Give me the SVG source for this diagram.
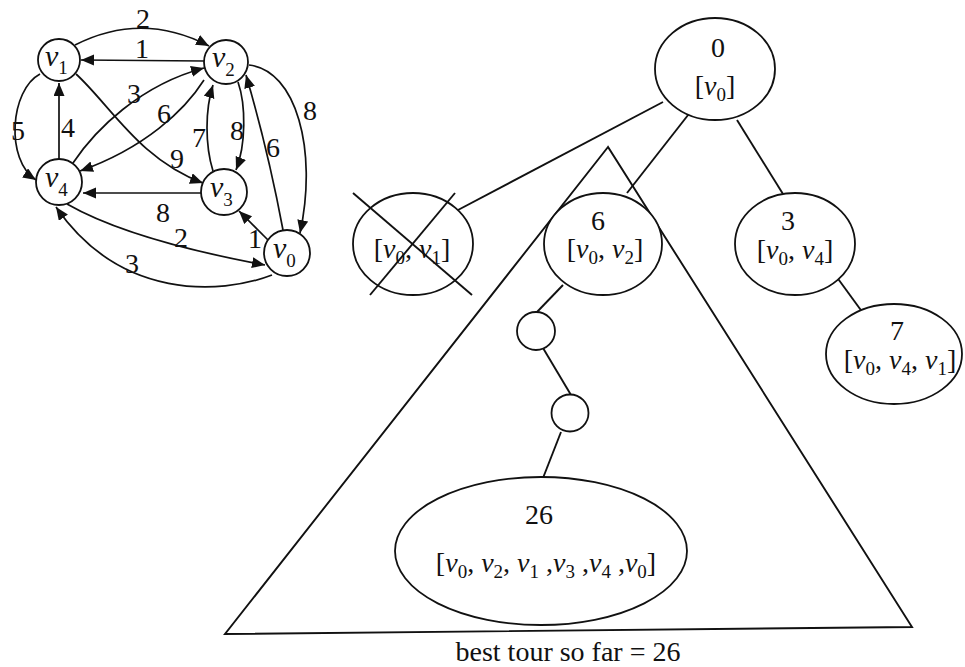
<svg xmlns="http://www.w3.org/2000/svg" width="965" height="667" viewBox="0 0 965 667">
<defs>
<marker id="ah" markerUnits="userSpaceOnUse" markerWidth="14" markerHeight="12" refX="13" refY="5.5" orient="auto">
<path d="M0,0 L13,5.5 L0,11 z" fill="#111"/>
</marker>
<style>
.n{fill:#fff;stroke:#111;stroke-width:1.8}
.e{fill:none;stroke:#111;stroke-width:1.7;marker-end:url(#ah)}
.t{fill:none;stroke:#111;stroke-width:1.9}
text{font-family:'Liberation Serif','Times New Roman','DejaVu Serif',serif;fill:#111}
.gl{font-size:28px}
.nl{font-size:30px}
.tl{font-size:28px;text-anchor:middle}
.i{font-style:italic}
</style>
</defs>
<rect width="965" height="667" fill="#fff"/>

<g id="graph-edges">
<path class="e" d="M75,45 Q142,11 209,46"/>
<path class="e" d="M204,61 L81,60"/>
<path class="e" d="M73,163 C95,130 140,85 204,68"/>
<path class="e" d="M204,80 C185,110 145,148 80,171"/>
<path class="e" d="M40,74 C10,90 5,160 36,180"/>
<path class="e" d="M59,159 L59,83"/>
<path class="e" d="M76,74 C110,105 140,160 203,183"/>
<path class="e" d="M201,193 L83,193"/>
<path class="e" d="M213,171 C205,145 205,110 213,85"/>
<path class="e" d="M238,82 C246,105 246,145 236,170"/>
<path class="e" d="M283,230 Q268,150 246,75"/>
<path class="e" d="M249,65 C296,70 318,150 300,233"/>
<path class="e" d="M268,240 L239,211"/>
<path class="e" d="M67,204 Q130,240 265,265"/>
<path class="e" d="M272,275 C220,295 120,300 56,207"/>
</g>
<g id="graph-edge-labels" class="gl" font-family="Liberation Serif, Times New Roman, serif" text-anchor="middle">
<text x="143" y="28">2</text>
<text x="142" y="58">1</text>
<text x="134" y="103">3</text>
<text x="164" y="123">6</text>
<text x="18" y="140">5</text>
<text x="68" y="137">4</text>
<text x="177" y="168">9</text>
<text x="163" y="222">8</text>
<text x="199" y="147">7</text>
<text x="237" y="140">8</text>
<text x="273" y="157">6</text>
<text x="310" y="120">8</text>
<text x="255" y="248">1</text>
<text x="181" y="247">2</text>
<text x="132" y="273">3</text>
</g>

<g id="v1"><circle class="n" cx="59" cy="60" r="21"/><text class="nl" x="45" y="66"><tspan class="i">v</tspan><tspan font-size="19" dy="8">1</tspan></text></g>
<g id="v2"><circle class="n" cx="226" cy="62" r="22"/><text class="nl" x="212" y="67"><tspan class="i">v</tspan><tspan font-size="19" dy="9">2</tspan></text></g>
<g id="v4"><circle class="n" cx="59" cy="182" r="23"/><text class="nl" x="45" y="187"><tspan class="i">v</tspan><tspan font-size="19" dy="9">4</tspan></text></g>
<g id="v3"><circle class="n" cx="224" cy="192" r="23"/><text class="nl" x="210" y="197"><tspan class="i">v</tspan><tspan font-size="19" dy="9">3</tspan></text></g>
<g id="v0"><circle class="n" cx="287" cy="253" r="23"/><text class="nl" x="273" y="258"><tspan class="i">v</tspan><tspan font-size="19" dy="9">0</tspan></text></g>

<g id="tree-connectors">
<polygon class="t" points="608,147 225,634 912,627"/>
<line class="t" x1="663" y1="102" x2="458" y2="210"/>
<line class="t" x1="692" y1="110" x2="627" y2="193"/>
<line class="t" x1="737" y1="120" x2="783" y2="194"/>
<line class="t" x1="836" y1="276" x2="863" y2="313"/>
<line class="t" x1="563" y1="285" x2="537" y2="312"/>
<line class="t" x1="543" y1="348" x2="571" y2="395"/>
<line class="t" x1="561" y1="432" x2="543" y2="478"/>
</g>

<g id="root"><ellipse class="n" cx="715" cy="69" rx="60" ry="51"/>
<text class="tl" x="718" y="57">0</text>
<text class="tl" x="715" y="95">[<tspan class="i">v</tspan><tspan font-size="19" dy="6">0</tspan><tspan dy="-6">]</tspan></text></g>

<g id="n01"><ellipse class="n" cx="413" cy="244" rx="60" ry="51"/>
<text class="tl" x="412" y="258">[<tspan class="i">v</tspan><tspan font-size="19" dy="6">0</tspan><tspan dy="-6">, </tspan><tspan class="i">v</tspan><tspan font-size="19" dy="6">1</tspan><tspan dy="-6">]</tspan></text>
<line class="t" x1="353" y1="193" x2="472" y2="295"/>
<line class="t" x1="455" y1="193" x2="370" y2="295"/></g>

<g id="n02"><ellipse class="n" cx="603" cy="244" rx="59" ry="51"/>
<text class="tl" x="598" y="230">6</text>
<text class="tl" x="605" y="258">[<tspan class="i">v</tspan><tspan font-size="19" dy="6">0</tspan><tspan dy="-6">, </tspan><tspan class="i">v</tspan><tspan font-size="19" dy="6">2</tspan><tspan dy="-6">]</tspan></text></g>

<g id="n04"><ellipse class="n" cx="795" cy="244" rx="60" ry="51"/>
<text class="tl" x="788" y="230">3</text>
<text class="tl" x="795" y="259">[<tspan class="i">v</tspan><tspan font-size="19" dy="6">0</tspan><tspan dy="-6">, </tspan><tspan class="i">v</tspan><tspan font-size="19" dy="6">4</tspan><tspan dy="-6">]</tspan></text></g>

<g id="n041"><ellipse class="n" cx="894" cy="354" rx="68" ry="50"/>
<text class="tl" x="897" y="340">7</text>
<text class="tl" x="900" y="369">[<tspan class="i">v</tspan><tspan font-size="19" dy="6">0</tspan><tspan dy="-6">, </tspan><tspan class="i">v</tspan><tspan font-size="19" dy="6">4</tspan><tspan dy="-6">, </tspan><tspan class="i">v</tspan><tspan font-size="19" dy="6">1</tspan><tspan dy="-6">]</tspan></text></g>

<g id="c1"><circle class="n" cx="536" cy="331" r="19"/></g>
<g id="c2"><circle class="n" cx="570" cy="413" r="18.5"/></g>

<g id="n26"><ellipse class="n" cx="541" cy="551" rx="146" ry="74"/>
<text class="tl" x="539" y="524">26</text>
<text class="tl" x="546" y="572">[<tspan class="i">v</tspan><tspan font-size="19" dy="6">0</tspan><tspan dy="-6">, </tspan><tspan class="i">v</tspan><tspan font-size="19" dy="6">2</tspan><tspan dy="-6">, </tspan><tspan class="i">v</tspan><tspan font-size="19" dy="6">1</tspan><tspan dy="-6"> ,</tspan><tspan class="i">v</tspan><tspan font-size="19" dy="6">3</tspan><tspan dy="-6"> ,</tspan><tspan class="i">v</tspan><tspan font-size="19" dy="6">4</tspan><tspan dy="-6"> ,</tspan><tspan class="i">v</tspan><tspan font-size="19" dy="6">0</tspan><tspan dy="-6">]</tspan></text></g>

<text class="tl" x="568" y="661">best tour so far = 26</text>
</svg>
